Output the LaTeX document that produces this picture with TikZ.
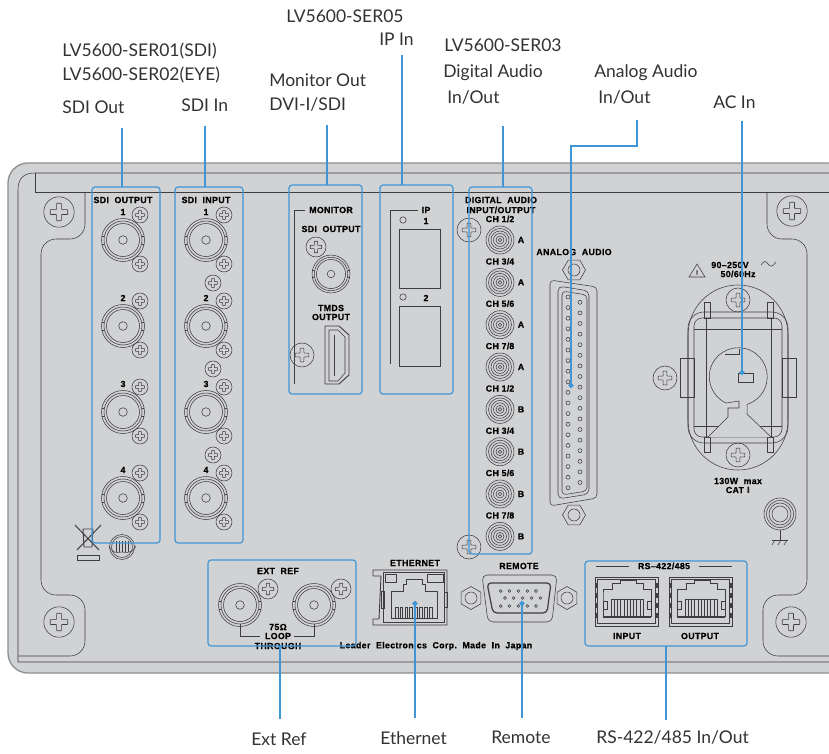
\documentclass[tikz,border=0pt]{standalone}
\usepackage{fontspec}
\usetikzlibrary{arrows.meta, positioning}
\setmainfont{Lato}
\newfontfamily\panelfont[LetterSpace=4,BoldFeatures={FakeBold=0.6}]{Liberation Sans}
\definecolor{leadblue}{RGB}{62, 150, 214}
\definecolor{panelgray}{RGB}{209, 210, 212}
\definecolor{rimgray}{RGB}{140, 142, 144}
\definecolor{inkdark}{RGB}{62, 62, 64}
\definecolor{labelink}{RGB}{50, 50, 50}

\begin{document}
\begin{tikzpicture}[
        x=1pt, y=-1pt,
        line width=0.6pt,
        labeltxt/.style={anchor=west, inner sep=0pt, text=labelink, font=\fontsize{17.5}{19}\selectfont},
        paneltxt/.style={inner sep=0pt, text=black, font=\fontsize{8.8}{9}\panelfont\bfseries},
        portbox/.style={rectangle, rounded corners=3pt, draw=leadblue, line width=1.2pt, inner sep=0pt, outer sep=0pt},
        lead/.style={line width=1.8pt, color=leadblue},
        leaddot/.style={lead, -{Circle[length=5pt]}},
        thinline/.style={draw=inkdark, line width=0.55pt},
        screw/.pic={
          \draw[thinline] (0,0) circle (8);
          \draw[thinline, rounded corners=0.5pt] (-1.3,-4.6) -- (1.3,-4.6) -- (1.3,-1.3) -- (4.6,-1.3) -- (4.6,1.3) -- (1.3,1.3) -- (1.3,4.6) -- (-1.3,4.6) -- (-1.3,1.3) -- (-4.6,1.3) -- (-4.6,-1.3) -- (-1.3,-1.3) -- cycle;
        },
        bnc/.pic={
          \draw[thinline] (0,0) circle (21.5);
          \draw[thinline] (0,0) circle (19);
          \draw[thinline] (0,0) circle (16.5);
          \draw[thinline] (0,0) circle (4.3);
          \draw[thinline] (-21.3,-4) -- (-19,-4);
          \draw[thinline] (-21.3,4) -- (-19,4);
          \draw[thinline] (21.3,-4) -- (19,-4);
          \draw[thinline] (21.3,4) -- (19,4);
        },
        minibnc/.pic={
          \foreach \r in {14,11.5,9,6.5,4,1.8} {\draw[thinline] (0,0) circle (\r);}
        },
        hexnut/.pic={
          \draw[thinline] (0:11.5) -- (60:11.5) -- (120:11.5) -- (180:11.5) -- (240:11.5) -- (300:11.5) -- cycle;
          \draw[thinline] (0,0) circle (6);
        },
        rjport/.pic={
          \draw[thinline, line width=0.9pt] (0,0) rectangle (63,49);
          \draw[thinline] (2.5,2.5) rectangle (60.5,46.5);
          \draw[thinline, line width=0.9pt] (8,18) -- (8,12) -- (17,12) -- (17,6) -- (25,6) -- (25,3) -- (41,3) -- (41,6) -- (48,6) -- (48,12) -- (56,12) -- (56,39) -- (8,39) -- cycle;
          \draw[thinline, line width=1.4pt] (8,40.5) -- (56,40.5);
          \foreach \k in {0,...,10} {\draw[thinline] (16+\k*3.2,22) -- (16+\k*3.2,39);}
          \draw[thinline] (16,22) -- (48,22);
          \draw[thinline] (8,24) rectangle (12,32);
          \draw[thinline] (52,24) rectangle (56,32);
          \foreach \yy in {6,16,26,36} {
            \fill[inkdark] (0,\yy) rectangle (3,\yy+5);
            \fill[inkdark] (60,\yy) rectangle (63,\yy+5);
          }
        }
      ]
        \useasboundingbox (0,0) rectangle (829,753);

        \fill[panelgray, rounded corners=20pt] (8,163) -- (845,163) -- (845,673) -- (8,673) -- cycle;
        \draw[rimgray, line width=1.3pt, rounded corners=20pt] (829,163) -- (8,163) -- (8,673) -- (829,673);
        \draw[thinline] (829,173) -- (35,173) .. controls (24,173) and (18,178) .. (18,190) -- (18,662) -- (829,662);
        \draw[thinline] (35,173) -- (35,192) -- (829,192);

        \draw[thinline, rounded corners=15pt] (85,192) -- (85,239) -- (41,239) -- (41,595) -- (85,595) -- (85,656) -- (18,656);
        \draw[thinline, rounded corners=15pt] (767,192) -- (767,239) -- (807,239) -- (807,595) -- (763,595) -- (763,656) -- (829,656);

        \pic[scale=1.9] at (59,212) {screw};
        \pic[scale=1.9] at (792,211) {screw};
        \pic[scale=1.9] at (59,622) {screw};
        \pic[scale=1.9] at (791,622) {screw};

        \node[paneltxt] (txtSdiOut) at (123,200) {SDI~~OUTPUT};
        \foreach \i/\yy in {1/240,2/326,3/412,4/498} {
          \pic at (123,\yy) {bnc};
          \pic at (140,\yy-25) {screw};
          \pic at (140,\yy+24) {screw};
          \node[paneltxt] (numOut\i) at (123,\yy-28) {\i};
        }

        \node[paneltxt] (txtSdiIn) at (206,200) {SDI~~INPUT};
        \foreach \i/\yy in {1/240,2/326,3/412,4/498} {
          \pic at (206,\yy) {bnc};
          \pic at (224,\yy-25) {screw};
          \pic at (224,\yy+24) {screw};
          \node[paneltxt] (numIn\i) at (206,\yy-28) {\i};
        }
        \foreach \yy in {283,369,455} {
          \pic at (213,\yy) {screw};
        }

        \node[paneltxt] (txtMonitor) at (331,210) {MONITOR};
        \node[paneltxt] (txtMonSdi) at (331,229) {SDI~~OUTPUT};
        \node[paneltxt] (txtTmds) at (331,308) {TMDS};
        \node[paneltxt] (txtTmdsOut) at (331,317) {OUTPUT};
        \draw[thinline] (305,210) -- (294,210) -- (294,384);
        \pic[scale=0.88] at (331,274) {bnc};
        \pic[scale=1.25] at (316,247) {screw};
        \pic[scale=1.5] at (302,355) {screw};
        \draw[thinline, line width=0.9pt] (325,326) -- (339,326) -- (349,335) -- (349,375) -- (339,384) -- (325,384) -- cycle;
        \draw[thinline] (329,330) -- (338,330) -- (345,337) -- (345,373) -- (338,381) -- (329,381) -- cycle;
        \draw[thinline] (334,335) -- (334,376);

        \node[paneltxt] (txtIp) at (426,210) {IP};
        \draw[thinline] (418,210) -- (390,210) -- (390,364);
        \draw[thinline] (403,220) circle (3.2);
        \node[paneltxt] (numIp1) at (426,221) {1};
        \draw[thinline] (399,229) rectangle (440,288);
        \draw[thinline] (403,297) circle (3.2);
        \node[paneltxt] (numIp2) at (426,298) {2};
        \draw[thinline] (399,306) rectangle (440,366);

        \node[paneltxt] (txtDigital) at (501,200) {DIGITAL~~AUDIO};
        \node[paneltxt] (txtDigitalIo) at (501,210) {INPUT/OUTPUT};
        \pic[scale=1.5] at (469,230) {screw};
        \pic[scale=1.5] at (469,547) {screw};
        \foreach \i/\cc/\bb/\yy in {1/1\slash2/A/240,2/3\slash4/A/282.4,3/5\slash6/A/324.7,4/7\slash8/A/367,5/1\slash2/B/409.4,6/3\slash4/B/451.7,7/5\slash6/B/494,8/7\slash8/B/536.4} {
          \pic at (500,\yy) {minibnc};
          \node[paneltxt] (chan\i) at (500,\yy-21) {CH \cc};
          \node[paneltxt] (bank\i) at (521,\yy) {\bb};
        }

        \node[paneltxt] (txtAnalog) at (574,252) {ANALOG~~AUDIO};
        \pic at (574,270) {hexnut};
        \pic at (574,515) {hexnut};
        \draw[thinline, rounded corners=4pt] (550,280) -- (597,287) -- (597,498) -- (550,506) -- cycle;
        \draw[thinline, rounded corners=5pt] (558,286) -- (589,291) -- (589,494) -- (558,499) -- cycle;
        \draw[thinline, rounded corners=4pt] (562,291) -- (587,295) -- (587,491) -- (562,495) -- cycle;
        \foreach \k in {0,...,18} {\draw[thinline] (568,297+\k*10.6) circle (2);}
        \foreach \k in {0,...,17} {\draw[thinline] (580,302.3+\k*10.6) circle (2);}

        \draw[thinline] (689,277) -- (697,264) -- (705,277) -- cycle;
        \node[paneltxt, font=\fontsize{6}{6}\panelfont\bfseries] (txtWarn) at (697,272.5) {!};
        \node[paneltxt] (txtVolt) at (730,265) {90–250V};
        \node[paneltxt] (txtHz) at (738,274) {50/60Hz};
        \draw[thinline] (761,265) .. controls (764,260) and (766,261) .. (768,264) .. controls (771,268) and (773,266) .. (776,262);

        \draw[thinline, rounded corners=50pt] (688,285) rectangle (788,470);
        \draw[thinline, rounded corners=16pt] (688,312) rectangle (788,443);
        \draw[thinline, fill=panelgray, rounded corners=8pt] (694,318) rectangle (782,437);
        \draw[thinline] (694,329) -- (782,329);
        \draw[thinline] (694,426) -- (782,426);
        \draw[thinline] (706,318) -- (706,437);
        \draw[thinline] (771,318) -- (771,437);
        \draw[thinline] (680,358) rectangle (694,397);
        \draw[thinline] (782,358) rectangle (796,397);
        \draw[thinline] (704,302) rectangle (710,318);
        \draw[thinline] (767,302) rectangle (773,318);
        \draw[thinline] (704,437) rectangle (710,452);
        \draw[thinline] (767,437) rectangle (773,452);
        \draw[thinline, fill=panelgray] (708,437) -- (728,417) -- (728,408) -- (739,408) -- (739,401) -- (726,403) arc[start angle=115, end angle=432, radius=29] -- (747,414) -- (771,437);
        \draw[thinline] (725,354) -- (739,354) -- (739,349);
        \draw[thinline] (738,373) rectangle (753,382);
        \pic[scale=1.5] at (738,300) {screw};
        \pic[scale=1.5] at (738,455) {screw};
        \pic[scale=1.5] at (665,378) {screw};
        \node[paneltxt] (txtWatt) at (738,481) {130W~~max};
        \node[paneltxt] (txtCat) at (738,490) {CAT $\mathrm{I\!I}$};

        \foreach \r in {16,13.5,11,8} {\draw[thinline] (780,514) circle (\r);}
        \draw[thinline] (780,530) -- (780,540);
        \draw[thinline] (772,540) -- (788,540);
        \foreach \xx in {775,781,787} {\draw[thinline] (\xx,540) -- (\xx-3,545);}

        \draw[thinline, line width=1pt] (75,525) -- (99,550);
        \draw[thinline, line width=1pt] (101,525) -- (77,550);
        \draw[thinline, line width=0.9pt] (83,529) -- (93,529) -- (92,547) -- (84,547) -- cycle;
        \draw[thinline] (77,555) rectangle (99,560);
        \draw[thinline] (122,547) circle (12.5);
        \draw[thinline] (122,547) circle (10.5);
        \foreach \xx in {116,119,122,125,128} {\draw[thinline] (\xx,541) -- (\xx,552);}
        \draw[thinline] (109,546) .. controls (112,553) and (116,553) .. (122,552) .. controls (128,553) and (132,553) .. (136,546);

        \node[paneltxt] (txtExtRef) at (278,571) {EXT~~REF};
        \pic at (240,605) {bnc};
        \pic at (314,605) {bnc};
        \pic[scale=1.25] at (268,589) {screw};
        \pic[scale=1.25] at (341,589) {screw};
        \node[paneltxt] (txtOhm) at (278,627) {75Ω};
        \node[paneltxt] (txtLoop) at (278,636) {LOOP};
        \node[paneltxt] (txtThrough) at (278,646) {THROUGH};
        \draw[thinline] (240,624) -- (240,636) -- (260,636);
        \draw[thinline] (314,624) -- (314,636) -- (294,636);

        \node[paneltxt] (txtEthernet) at (415,563) {ETHERNET};
        \draw[thinline, line width=0.9pt] (373,570) -- (447,570) -- (447,625) -- (373,625) -- (373,619) -- (379,619) -- (381,576) -- (373,576) -- cycle;
        \draw[thinline] (383,572) rectangle (444,622);
        \draw[thinline] (385,574) rectangle (396,582);
        \draw[thinline] (427,574) rectangle (443,582);
        \draw[thinline] (391,591) -- (403,591) -- (403,584) -- (406,584) -- (406,579) -- (422,579) -- (422,584) -- (425,584) -- (425,591) -- (437,591) -- (437,618) -- (391,618) -- cycle;
        \foreach \k in {0,...,7} {\draw[thinline] (395+\k*4.9,618) -- (395+\k*4.9,607) -- (397.8+\k*4.9,607) -- (397.8+\k*4.9,618);}
        \draw[thinline] (381,591) rectangle (384,608);
        \draw[thinline] (444,592) rectangle (447,607);

        \node[paneltxt] (txtRemote) at (519,566) {REMOTE};
        \pic[rotate=30] at (471,598) {hexnut};
        \pic[rotate=30] at (567,598) {hexnut};
        \draw[thinline, rounded corners=5pt] (482,575) -- (557,575) -- (552,622) -- (488,622) -- cycle;
        \draw[thinline, line width=1.2pt, rounded corners=4pt] (487,583) -- (551,583) -- (547,613) -- (493,613) -- cycle;
        \foreach \xx in {500.7,509.3,518.3,527.3,536} {
          \draw[thinline] (\xx,591) circle (1.4);
          \draw[thinline] (\xx,606) circle (1.4);
          \draw[thinline] (\xx+4.3,598) circle (1.4);
        }

        \node[paneltxt] (txtFooter) at (436,646) {Leader~~Electronics~~Corp.~~Made~~In~~Japan};

        \node[paneltxt] (txtRs) at (664,566) {RS–422/485};
        \draw[thinline] (596,566) -- (629,566);
        \draw[thinline] (699,566) -- (732,566);
        \pic at (595,577) {rjport};
        \pic at (669,577) {rjport};
        \node[paneltxt] (txtRsIn) at (627,636) {INPUT};
        \node[paneltxt] (txtRsOut) at (700,636) {OUTPUT};

        \node[portbox, minimum width=68pt, minimum height=356pt] (boxSdiOut) at (126,365) {};
        \node[portbox, minimum width=68pt, minimum height=356pt] (boxSdiIn) at (209,365) {};
        \node[portbox, minimum width=73pt, minimum height=209pt] (boxMonitor) at (325.5,289.5) {};
        \node[portbox, minimum width=73pt, minimum height=209pt] (boxIp) at (416.5,289.5) {};
        \node[portbox, minimum width=63pt, minimum height=367pt] (boxDigital) at (500.5,370.5) {};
        \node[portbox, minimum width=148pt, minimum height=86pt] (boxExtRef) at (282,603) {};
        \node[portbox, minimum width=162pt, minimum height=85pt] (boxRs) at (666,603.5) {};

        \node[labeltxt] (lblSer01) at (62,51) {LV5600-SER01(SDI)};
        \node[labeltxt] (lblSer02) at (62,75) {LV5600-SER02(EYE)};
        \node[labeltxt] (lblSdiOut) at (62,107) {SDI Out};
        \node[labeltxt] (lblSdiIn) at (181,105) {SDI In};
        \node[labeltxt] (lblMonitor) at (269,80) {Monitor Out};
        \node[labeltxt] (lblDvi) at (269,104) {DVI-I/SDI};
        \node[labeltxt] (lblSer05) at (286,16) {LV5600-SER05};
        \node[labeltxt] (lblIp) at (379,39) {IP In};
        \node[labeltxt] (lblSer03) at (444,45) {LV5600-SER03};
        \node[labeltxt] (lblDigital) at (443,73) {Digital Audio};
        \node[labeltxt] (lblDigitalIo) at (447,97) {In/Out};
        \node[labeltxt] (lblAnalog) at (594,73) {Analog Audio};
        \node[labeltxt] (lblAnalogIo) at (598,97) {In/Out};
        \node[labeltxt] (lblAc) at (713,102) {AC In};
        \node[labeltxt] (lblExtRef) at (251,739) {Ext Ref};
        \node[labeltxt] (lblEthernet) at (380,738) {Ethernet};
        \node[labeltxt] (lblRemote) at (491,737) {Remote};
        \node[labeltxt] (lblRs) at (596,737) {RS-422/485 In/Out};

        \coordinate (bendAnalog) at (637,146);
        \coordinate (endAnalog) at (571,388);
        \coordinate (endAc) at (742,375);
        \coordinate (endEthernet) at (415,601);
        \coordinate (endRemote) at (522,601);
        \coordinate (xSdiOut) at (122,187);
        \coordinate (xSdiIn) at (205,187);
        \coordinate (xMonitor) at (327,185);
        \coordinate (xIp) at (402,185);
        \coordinate (xDigital) at (503,187);
        \coordinate (xExtRef) at (280,646);

        \draw[lead] (xSdiOut |- 0,128) -- (xSdiOut);
        \draw[lead] (xSdiIn |- 0,126) -- (xSdiIn);
        \draw[lead] (xMonitor |- 0,125) -- (xMonitor);
        \draw[lead] (xIp |- 0,55) -- (xIp);
        \draw[lead] (xDigital |- 0,126) -- (xDigital);
        \draw[leaddot] (bendAnalog |- 0,120) -- (bendAnalog) -| (endAnalog);
        \draw[leaddot] (endAc |- 0,121) -- (endAc);
        \draw[lead] (xExtRef) -- (xExtRef |- 0,719);
        \draw[leaddot] (endEthernet |- 0,718) -- (endEthernet);
        \draw[leaddot] (endRemote |- 0,718) -- (endRemote);
        \draw[lead] (boxRs.south) -- (boxRs.south |- 0,720);
      \end{tikzpicture}
\end{document}
